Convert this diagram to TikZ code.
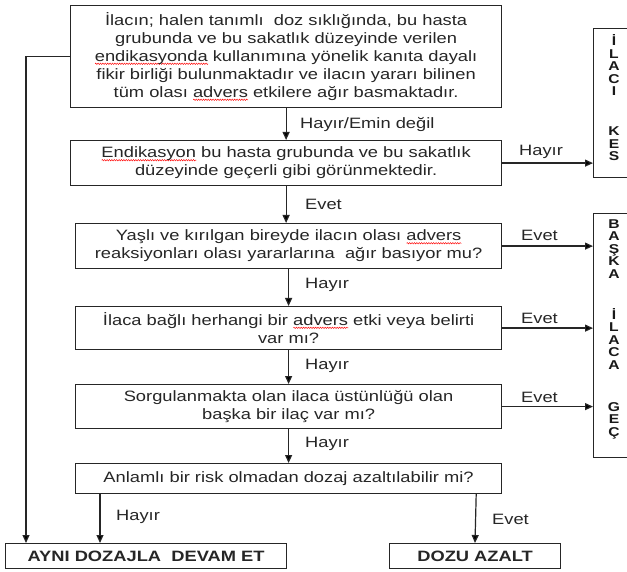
\documentclass[tikz,border=0pt]{standalone}
\usepackage{fontspec}
\setmainfont[FakeStretch=1.22]{Liberation Sans}
\usetikzlibrary{arrows.meta,calc,decorations.pathmorphing}
\newlength\splen
\newcommand\spellerr[1]{\settowidth\splen{#1}\rlap{\raisebox{-3.2pt}{\tikz[x=1pt,y=1pt]\draw[red,line width=0.45pt,decorate,decoration={zigzag,amplitude=0.7pt,segment length=2.4pt}] (0,0)--(\splen,0);}}#1}
\begin{document}
\begin{tikzpicture}[x=1pt,y=-1pt,
  txt/.style={font=\fontsize{15}{18}\selectfont, text=black!85},
  box/.style={txt, draw=black!85, line width=1.2pt, align=center, inner sep=0pt, anchor=north west},
  sidebox/.style={draw=black!85, line width=1.2pt, inner sep=0pt, anchor=north west},
  sidetext/.style={align=center, inner sep=0pt, font=\fontsize{12.8}{12.5}\selectfont\bfseries, text=black!90},
  endbox/.style={box, font=\fontsize{15}{18}\selectfont\bfseries},
  lbl/.style={txt, anchor=west, inner sep=0pt},
  arr/.style={draw=black!85, line width=1.2pt, -{Triangle[length=8pt,width=7pt]}}]
\clip (0,0) rectangle (627,572);
\fill[white] (0,0) rectangle (627,572);

\node[box, minimum width=431pt, minimum height=102pt] (top) at (70,5)
  {İlacın; halen tanımlı\ \ doz sıklığında, bu hasta\\
   grubunda ve bu sakatlık düzeyinde verilen\\
   \spellerr{endikasyonda} kullanımına yönelik kanıta dayalı\\
   fikir birliği bulunmaktadır ve ilacın yararı bilinen\\
   tüm olası \spellerr{advers} etkilere ağır basmaktadır.};
\node[box, minimum width=431pt, minimum height=45pt] (b2) at (70,140)
  {\spellerr{Endikasyon} bu hasta grubunda ve bu sakatlık\\
   düzeyinde geçerli gibi görünmektedir.};
\node[box, minimum width=426pt, minimum height=45pt] (b3) at (75,223)
  {Yaşlı ve kırılgan bireyde ilacın olası \spellerr{advers}\\
   reaksiyonları olası yararlarına\ \ ağır basıyor mu?};
\node[box, minimum width=426pt, minimum height=43pt] (b4) at (75,306)
  {İlaca bağlı herhangi bir \spellerr{advers} etki veya belirti\\
   var mı?};
\node[box, minimum width=426pt, minimum height=44pt] (b5) at (75,384)
  {Sorgulanmakta olan ilaca üstünlüğü olan\\
   başka bir ilaç var mı?};
\node[box, minimum width=426pt, minimum height=30pt] (b6) at (75,463)
  {Anlamlı bir risk olmadan dozaj azaltılabilir mi?};
\node[endbox, minimum width=281pt, minimum height=25pt] (ayni) at (5,543)
  {AYNI DOZAJLA\ \ DEVAM ET};
\node[endbox, minimum width=171pt, minimum height=25pt] (dozu) at (389,543)
  {DOZU AZALT};
\node[sidebox, minimum width=50pt, minimum height=149pt] (kes) at (593,28) {};
\node[sidetext] (kestext) at (614,98)
  {İ\\L\\A\\C\\I\\[27.5pt]K\\E\\S};
\node[sidebox, minimum width=50pt, minimum height=244pt] (baska) at (593,213) {};
\node[sidetext] (baskatext) at (614,329)
  {B\\A\\Ş\\K\\A\\[28.5pt]İ\\L\\A\\C\\A\\[29.5pt]G\\E\\Ç};

% vertical connectors
\draw[arr] (top.south) -- (top.south |- b2.north);
\draw[arr] (b2.south) -- (b2.south |- b3.north);
\draw[arr] (b3.south) -- (b4.north);
\draw[arr] (b4.south) -- (b5.north);
\draw[arr] (b5.south) -- (b6.north);
\draw[arr] ([xshift=25pt]b6.south west) -- ([xshift=95pt]ayni.north west);
\draw[arr] ([xshift=-26pt]b6.south east) -- ([xshift=86pt]dozu.north west);
\draw[arr] (top.west) -| ([xshift=21pt]ayni.north west);
% right connectors
\draw[arr] (b2.east) -- (b2.east -| kes.west);
\draw[arr] (b3.east) -- (b3.east -| baska.west);
\draw[arr] (b4.east) -- (b4.east -| baska.west);
\draw[arr] (b5.east) -- (b5.east -| baska.west);

% labels
\node[lbl] (l1) at (300,125) {Hayır/Emin değil};
\node[lbl] (l2) at (305,204) {Evet};
\node[lbl] (l3) at (305,285) {Hayır};
\node[lbl] (l4) at (305,366) {Hayır};
\node[lbl] (l5) at (305,444) {Hayır};
\node[lbl] (r1) at (519,152) {Hayır};
\node[lbl] (r2) at (521,235) {Evet};
\node[lbl] (r3) at (521,318) {Evet};
\node[lbl] (r4) at (521,397) {Evet};
\node[lbl] (bl) at (116,517) {Hayır};
\node[lbl] (br) at (492,519) {Evet};
\end{tikzpicture}
\end{document}
